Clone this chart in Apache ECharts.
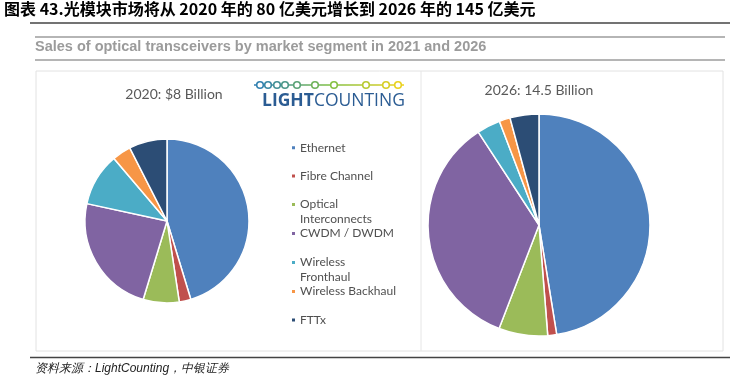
<!DOCTYPE html>
<html>
<head>
<meta charset="utf-8">
<script src="https://cdn.jsdelivr.net/npm/echarts@6/dist/echarts.min.js"></script>
<style>
html,body{margin:0;padding:0;background:#fff;}
#c{width:733px;height:390px;}
</style>
</head>
<body>
<div id="c"></div>
<script>
// ---- data ----
var segments = ['Ethernet', 'Fibre Channel', 'Optical Interconnects', 'CWDM / DWDM', 'Wireless Fronthaul', 'Wireless Backhaul', 'FTTx'];
var legendLabels = ['Ethernet', 'Fibre Channel', 'Optical\nInterconnects', 'CWDM / DWDM', 'Wireless\nFronthaul', 'Wireless Backhaul', 'FTTx'];
var share2020 = [45.3, 2.3, 7.1, 23.7, 10.4, 3.7, 7.5];   // % of $8B
var share2026 = [47.4, 1.3, 7.1, 34.9, 3.4, 1.6, 4.2];    // % of $14.5B
var pieTitles = ['2020: $8 Billion', '2026: 14.5 Billion'];
var colors = ['#4F81BD', '#C0504D', '#9BBB59', '#8064A2', '#4BACC6', '#F79646', '#2C4D75'];
var mainTitle = '图表 43.光模块市场将从 2020 年的 80 亿美元增长到 2026 年的 145 亿美元';
var subTitle = 'Sales of optical transceivers by market segment in 2021 and 2026';
var sourceText = '资料来源：LightCounting，中银证券';

var chart = echarts.init(document.getElementById('c'), null, {renderer: 'canvas'});

function toData(vals) {
  return segments.map(function (s, i) { return {name: s, value: vals[i]}; });
}

// legend, one component per entry so entries stay evenly spaced
var legendCenters = [147.7, 176, 204.5, 233.5, 262.5, 291.5, 320];
var legends = segments.map(function (s, i) {
  var multi = legendLabels[i].indexOf('\n') >= 0;
  var lh = 14.3;
  return {
    data: [s],
    left: 290,
    top: legendCenters[i] - (multi ? lh * 1.5 : lh / 2),
    padding: 0,
    orient: 'vertical',
    icon: 'rect',
    itemWidth: 5,
    itemHeight: 5,
    itemGap: 0,
    selectedMode: false,
    formatter: function () { return multi ? '\u00a0\n' + legendLabels[i] : legendLabels[i]; },
    textStyle: {fontFamily: 'Lato', fontSize: 12, color: '#505050', lineHeight: lh, padding: [0, 0, 0, -1]}
  };
});

// logo chain circles
var chainX = [260, 268, 277, 285, 297, 315, 334, 366, 386, 398];
var grad = new echarts.graphic.LinearGradient(0, 0, 1, 0, [
  {offset: 0, color: '#2A7BB8'}, {offset: 0.5, color: '#7DBF45'}, {offset: 1, color: '#F2D31B'}
]);
var logoEls = [{
  type: 'line', shape: {x1: 254, y1: 85, x2: 404, y2: 85},
  style: {stroke: grad, lineWidth: 1.6}
}];
chainX.forEach(function (x) {
  var t = (x - 254) / 150;
  var c = t < 0.5 ? echarts.color.lerp(t * 2, ['#2A7BB8', '#7DBF45']) : echarts.color.lerp((t - 0.5) * 2, ['#7DBF45', '#F2D31B']);
  logoEls.push({type: 'circle', shape: {cx: x, cy: 85, r: 3.3}, style: {fill: '#fff', stroke: c, lineWidth: 1.6}});
});
logoEls.push({
  type: 'text', left: 262, top: 92,
  style: {
    text: '{b|LIGHT}{r|COUNTING}',
    rich: {
      b: {fontFamily: 'Open Sans', fontWeight: 'bold', fontSize: 17.5, fill: '#2B5C93'},
      r: {fontFamily: 'Open Sans', fontWeight: 'normal', fontSize: 17.5, fill: '#2B5C93'}
    }
  }
});

var option = {
  animation: false,
  backgroundColor: '#ffffff',
  color: colors,
  title: [
    {text: mainTitle, left: 4, top: 1, padding: 0,
     textStyle: {fontFamily: 'Noto Sans CJK SC', fontWeight: 'bold', fontSize: 16, color: '#000'}},
    {text: subTitle, left: 35, top: 39, padding: 0,
     textStyle: {fontFamily: 'Liberation Sans', fontWeight: 'bold', fontSize: 14.5, color: '#9B9B9B'}},
    {text: pieTitles[0], left: 174, top: 87, textAlign: 'center', padding: 0,
     textStyle: {fontFamily: 'Lato', fontWeight: 'normal', fontSize: 14, color: '#595959'}},
    {text: pieTitles[1], left: 539, top: 83, textAlign: 'center', padding: 0,
     textStyle: {fontFamily: 'Lato', fontWeight: 'normal', fontSize: 14, color: '#595959'}},
    {text: sourceText, left: 35, top: 363, padding: 0,
     textStyle: {fontFamily: 'Liberation Sans', fontStyle: 'italic', fontWeight: 'normal', fontSize: 12, color: '#222'}}
  ],
  legend: legends,
  graphic: [
    {type: 'line', shape: {x1: 30, y1: 23, x2: 730, y2: 23}, style: {stroke: '#444', lineWidth: 1.5}, z: -1},
    {type: 'line', shape: {x1: 35, y1: 37, x2: 725, y2: 37}, style: {stroke: '#B5B5B5', lineWidth: 2}, z: -1},
    {type: 'line', shape: {x1: 35, y1: 60, x2: 725, y2: 60}, style: {stroke: '#B5B5B5', lineWidth: 2}, z: -1},
    {type: 'rect', shape: {x: 36, y: 71, width: 687, height: 280}, style: {fill: '#fff', stroke: '#E2E2E2', lineWidth: 1}, z: -2},
    {type: 'line', shape: {x1: 421, y1: 71, x2: 421, y2: 351}, style: {stroke: '#E6E6E6', lineWidth: 1}, z: -1},
    {type: 'line', shape: {x1: 30, y1: 357.5, x2: 730, y2: 357.5}, style: {stroke: '#444', lineWidth: 1.5}, z: -1},
    {type: 'group', children: logoEls}
  ],
  series: [
    {
      type: 'pie', name: '2020', center: [167, 221], radius: 82,
      startAngle: 90, clockwise: true, label: {show: false}, labelLine: {show: false},
      silent: true,
      itemStyle: {borderColor: '#fff', borderWidth: 1.5},
      data: toData(share2020)
    },
    {
      type: 'pie', name: '2026', center: [539, 225], radius: 111,
      startAngle: 90, clockwise: true, label: {show: false}, labelLine: {show: false},
      silent: true,
      itemStyle: {borderColor: '#fff', borderWidth: 1.5},
      data: toData(share2026)
    }
  ]
};
chart.setOption(option);
</script>
</body>
</html>
